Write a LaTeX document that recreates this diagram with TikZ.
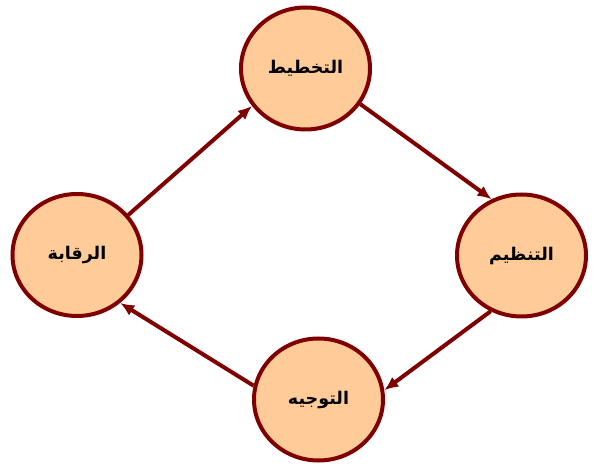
\documentclass[tikz,border=0pt]{standalone}
\usepackage{fontspec}
\newfontfamily\arabicfont[Script=Arabic]{DejaVu Sans}
\TeXXeTstate=1
\usetikzlibrary{shapes.geometric,arrows.meta}
\definecolor{maroon}{HTML}{800000}
\definecolor{peach}{HTML}{FFCC99}
\tikzset{
  stage/.style={ellipse,draw=maroon,fill=peach,line width=4pt,minimum width=129pt,minimum height=122pt,inner sep=0pt,font=\arabicfont\bfseries\fontsize{17.5}{20}\selectfont},
  flow/.style={draw=maroon,line width=4pt,-{Latex[length=14pt,width=12pt]}}
}
\begin{document}
\begin{tikzpicture}[x=1pt,y=1pt]
      \useasboundingbox (0,0) rectangle (597,466);
      \node[stage] (takhtit) at (305.5,397.5) {\beginR التخطيط\endR};
      \node[stage] (tanzim) at (521.5,210.5) {\beginR التنظيم\endR};
      \node[stage] (tawjih) at (318.5,66.5) {\beginR التوجيه\endR};
      \node[stage] (riqaba) at (77,211) {\beginR الرقابة\endR};
      \draw[flow] (riqaba.38) -- (takhtit.215);
      \draw[flow] (takhtit.-33) -- (tanzim.118);
      \draw[flow] (tanzim.241) -- (tawjih.8);
      \draw[flow] (tawjih.168) -- (riqaba.-48);
    \end{tikzpicture}
\end{document}
